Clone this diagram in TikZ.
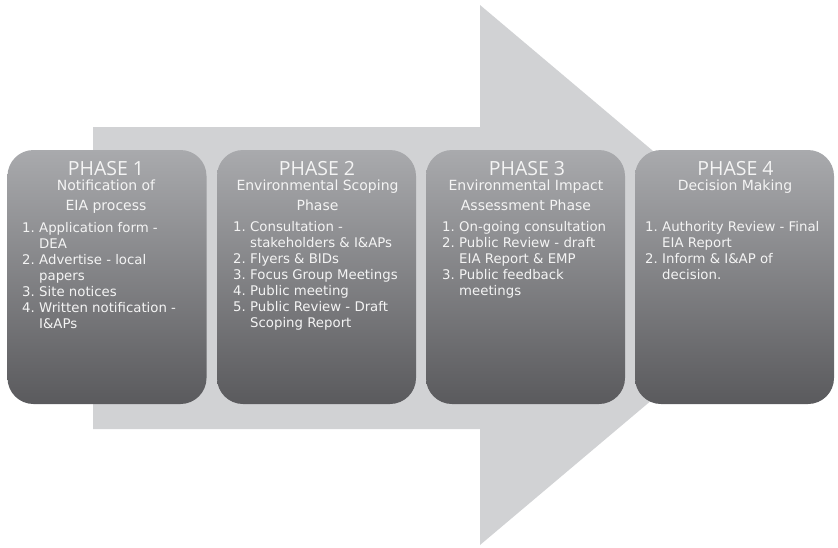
\documentclass[tikz,border=0pt]{standalone}
\usepackage{fontspec}
\setmainfont{DejaVu Sans}
\newfontfamily\hdrfont{Open Sans}
\definecolor{arrowgrey}{HTML}{D1D2D4}
\definecolor{boxtop}{HTML}{A9AAAD}
\definecolor{boxbot}{HTML}{5A5A5D}
\definecolor{txtcol}{HTML}{F4F4F4}
\begin{document}
\begin{tikzpicture}[x=1pt,y=-1pt,
  phasebox/.style={rounded corners=26pt, minimum width=199pt, minimum height=254pt,
    top color=boxtop, bottom color=boxbot, draw=none, inner sep=0pt},
  hdr/.style={anchor=base, text=txtcol, font=\hdrfont\fontsize{19.5}{20}\selectfont, inner sep=0pt},
  subt/.style={anchor=base, text=txtcol, font=\fontsize{14}{20}\selectfont, inner sep=0pt},
  lst/.style={anchor=base west, text=txtcol, font=\fontsize{13.3}{16}\selectfont, inner sep=0pt}]
\useasboundingbox (0,0) rectangle (838,547);
% big arrow
\fill[arrowgrey] (93,127) -- (480,127) -- (480,5) -- (800,275) -- (480,545) -- (480,429) -- (93,429) -- cycle;
% boxes
\node[phasebox] (b1) at (107,277) {};
\node[phasebox] (b2) at (316.5,277) {};
\node[phasebox] (b3) at (525.5,277) {};
\node[phasebox] (b4) at (734.5,277) {};
% headers
\node[hdr] (h1) at (106,175) {PHASE 1};
\node[hdr] (h2) at (317,175) {PHASE 2};
\node[hdr] (h3) at (527,175) {PHASE 3};
\node[hdr] (h4) at (735.5,175) {PHASE 4};
% subtitles
\node[subt] (s1a) at (106,190) {Notification of};
\node[subt] (s1b) at (106,210) {EIA process};
\node[subt] (s2a) at (317.5,190) {Environmental Scoping};
\node[subt] (s2b) at (317.5,210) {Phase};
\node[subt] (s3a) at (526,190) {Environmental Impact};
\node[subt] (s3b) at (526,210) {Assessment Phase};
\node[subt] (s4a) at (735,190) {Decision Making};
% lists
\node[lst] (l1) at (22,232) {\begin{tabular}[t]{@{}p{17pt}@{}l@{}}
1.&Application form -\\ &DEA\\ 2.&Advertise - local\\ &papers\\ 3.&Site notices\\ 4.&Written notification -\\ &I\&APs
\end{tabular}};
\node[lst] (l2) at (233,231) {\begin{tabular}[t]{@{}p{17pt}@{}l@{}}
1.&Consultation -\\ &stakeholders \& I\&APs\\ 2.&Flyers \& BIDs\\ 3.&Focus Group Meetings\\ 4.&Public meeting\\ 5.&Public Review - Draft\\ &Scoping Report
\end{tabular}};
\node[lst] (l3) at (442,231) {\begin{tabular}[t]{@{}p{17pt}@{}l@{}}
1.&On-going consultation\\ 2.&Public Review - draft\\ &EIA Report \& EMP\\ 3.&Public feedback\\ &meetings
\end{tabular}};
\node[lst] (l4) at (645,231) {\begin{tabular}[t]{@{}p{17pt}@{}l@{}}
1.&Authority Review - Final\\ &EIA Report\\ 2.&Inform \& I\&AP of\\ &decision.
\end{tabular}};
\end{tikzpicture}
\end{document}
